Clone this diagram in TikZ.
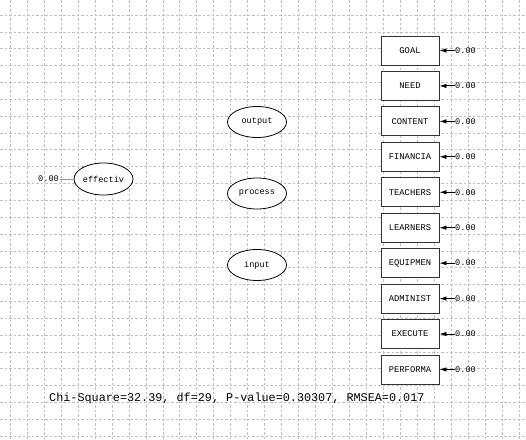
\documentclass[tikz,border=0pt]{standalone}
\usepackage{fontspec}
\newfontfamily\monofam{Liberation Mono}
\usetikzlibrary{arrows.meta,shapes.geometric}
\tikzset{
  gridline/.style={draw=black!25, dash pattern=on 2.5pt off 2pt, line width=0.45pt},
  varbox/.style={draw=black!80, line width=0.9pt, rectangle, minimum width=58pt, minimum height=29pt, inner sep=0pt, font=\monofam\fontsize{8.8}{9}\selectfont},
  latent/.style={draw=black, line width=0.8pt, ellipse, minimum width=59pt, minimum height=31pt, inner sep=0pt, font=\monofam\fontsize{8.6}{9}\selectfont},
  errlabel/.style={inner sep=0pt, anchor=west, font=\monofam\fontsize{8.6}{9}\selectfont},
  errarrow/.style={-{Latex[length=7pt,width=4.5pt]}, line width=0.9pt},
  fitlabel/.style={inner sep=0pt, anchor=west, font=\monofam\fontsize{11.8}{13}\selectfont}
}
\begin{document}
\begin{tikzpicture}[x=1pt,y=-1pt]
\useasboundingbox (0,0) rectangle (526,439);
\fill[white] (0,0) rectangle (526,439);
% grid
\foreach \i in {0,...,30} {
  \draw[gridline] ({10+16.97*\i},0) -- ({10+16.97*\i},439);
}
\foreach \j in {0,...,25} {
  \draw[gridline] (0,{15+16.84*\j}) -- (526,{15+16.84*\j});
}
% observed variables
\foreach \lab [count=\k from 0] in {GOAL,NEED,CONTENT,FINANCIA,TEACHERS,LEARNERS,EQUIPMEN,ADMINIST,EXECUTE,PERFORMA} {
  \node[varbox, fill=white] (b\k) at (410,{50.5+35.44*\k}) {\lab};
  \node[errlabel] (e\k) at (455,{50.5+35.44*\k}) {0.00};
  \draw[errarrow] (e\k.west) -- (b\k.east);
}
% latent variables
\node[latent, fill=white] (output) at (257,122) {output};
\node[latent, fill=white] (process) at (257,193.5) {process};
\node[latent, fill=white] (input) at (257,265) {input};
\node[latent, fill=white, minimum height=32pt] (effectiv) at (103.5,179) {effectiv};
\node[errlabel] (e0eff) at (38,179) {0.00};
\draw[black!40, line width=0.8pt] (e0eff.east) ++(1,0) coordinate (c0) (c0) -- (effectiv.west);
% fit statistics
\node[fitlabel] (fit) at (49,398) {Chi-Square=32.39, df=29, P-value=0.30307, RMSEA=0.017};
\end{tikzpicture}
\end{document}
